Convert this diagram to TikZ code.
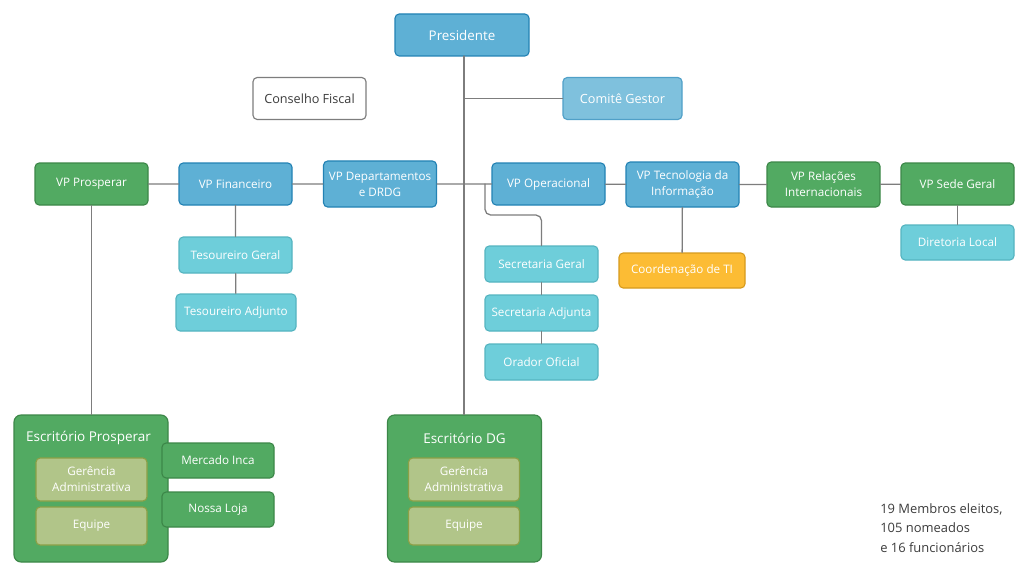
\documentclass[tikz,border=0pt]{standalone}
\usepackage{fontspec}
\setmainfont{Open Sans}
\usetikzlibrary{positioning}

\definecolor{vpblue}{RGB}{94,176,213}
\definecolor{vpblueline}{RGB}{35,130,180}
\definecolor{vpgreen}{RGB}{82,170,98}
\definecolor{vpgreenline}{RGB}{60,135,72}
\definecolor{subcyan}{RGB}{110,206,218}
\definecolor{subcyanline}{RGB}{85,180,192}
\definecolor{cgblue}{RGB}{127,193,221}
\definecolor{cgblueline}{RGB}{80,160,200}
\definecolor{olive}{RGB}{177,197,137}
\definecolor{oliveline}{RGB}{140,160,70}
\definecolor{tiorange}{RGB}{252,188,52}
\definecolor{tiorangeline}{RGB}{215,155,30}
\definecolor{linkgray}{RGB}{125,125,125}
\definecolor{notegray}{RGB}{60,60,60}

\def\pxu{0.025cm}

\begin{document}
\begin{tikzpicture}[
    x=0.025cm, y=-0.025cm,
    font=\fontsize{8.3}{11.3}\selectfont,
    line cap=round,
    line join=round,
    box/.style={rounded corners=3pt, line width=0.8pt, align=center, text=white,
        inner sep=1pt, minimum width=113*\pxu, minimum height=42*\pxu},
    bluebox/.style={box, fill=vpblue, draw=vpblueline},
    greenbox/.style={box, fill=vpgreen, draw=vpgreenline},
    subbox/.style={box, fill=subcyan, draw=subcyanline, minimum height=36*\pxu},
    olivebox/.style={box, fill=olive, draw=oliveline, minimum width=111*\pxu},
    office/.style={rounded corners=5pt, line width=0.8pt, fill=vpgreen, draw=vpgreenline,
        minimum width=154*\pxu, minimum height=147*\pxu, inner sep=0pt},
    officetitle/.style={text=white, font=\fontsize{9.6}{11}\selectfont, inner sep=1pt},
    link/.style={draw=linkgray, line width=0.9pt}
]

% --- Canvas ---
\useasboundingbox[fill=white] (0,0) rectangle (1030,577);

% --- Top ---
\node[bluebox, minimum width=134*\pxu, font=\fontsize{9.5}{11}\selectfont] (pres) at (462,35) {Presidente};
\node[box, fill=white, draw=linkgray, text=notegray, font=\fontsize{9}{11}\selectfont] (cf) at (309.5,98.5) {Conselho Fiscal};
\node[box, fill=cgblue, draw=cgblueline, minimum width=119*\pxu, font=\fontsize{9}{11}\selectfont] (cg) at (622.5,98.5) {Comitê Gestor};

% --- VP row ---
\node[greenbox] (vpP) at (91.5,184) {VP Prosperar};
\node[bluebox] (vpF) at (235.5,184) {VP Financeiro};
\node[bluebox, minimum height=46*\pxu] (vpD) at (380,184) {VP Departamentos\\e DRDG};
\node[bluebox] (vpO) at (548.5,184) {VP Operacional};
\node[bluebox, minimum height=45*\pxu] (vpT) at (682.5,184.5) {VP Tecnologia da\\Informação};
\node[greenbox, minimum height=45*\pxu] (vpR) at (823.5,184.5) {VP Relações\\Internacionais};
\node[greenbox] (vpS) at (957.5,184) {VP Sede Geral};

% --- Subordinates ---
\node[subbox] (tg) at (235.5,255) {Tesoureiro Geral};
\node[subbox, minimum width=120*\pxu, minimum height=37*\pxu] (ta) at (236,312.5) {Tesoureiro Adjunto};
\node[subbox] (sg) at (541.5,264) {Secretaria Geral};
\node[subbox] (sa) at (541.5,313) {Secretaria Adjunta};
\node[subbox] (oo) at (541.5,362) {Orador Oficial};
\node[box, fill=tiorange, draw=tiorangeline, minimum width=126*\pxu, minimum height=35*\pxu] (cti) at (682,270.5) {Coordenação de TI};
\node[subbox, minimum height=35*\pxu] (dl) at (957.5,242.5) {Diretoria Local};

% --- Escritorios ---
\node[office] (escP) at (91,488.5) {};
\node[officetitle] (escPt) at (88.5,438) {Escritório Prosperar};
\node[olivebox, minimum height=43*\pxu] (gaP) at (91.5,479.5) {Gerência\\Administrativa};
\node[olivebox, minimum height=38*\pxu] (eqP) at (91.5,526) {Equipe};
\node[greenbox, minimum width=112*\pxu, minimum height=35*\pxu] (mi) at (218,460.5) {Mercado Inca};
\node[greenbox, minimum width=112*\pxu, minimum height=35*\pxu] (nl) at (218,509.5) {Nossa Loja};

\node[office] (escDG) at (464.5,488.5) {};
\node[officetitle] (escDGt) at (464.5,438) {Escritório DG};
\node[olivebox, minimum height=43*\pxu] (gaDG) at (464,479.5) {Gerência\\Administrativa};
\node[olivebox, minimum height=38*\pxu] (eqDG) at (464,526) {Equipe};

% --- Note ---
\node[anchor=north west, align=left, text=notegray, inner sep=0pt,
      font=\fontsize{9.2}{13.9}\selectfont] (note) at (880,503) {19 Membros eleitos,\\105 nomeados\\e 16 funcionários};

% --- Links ---
\coordinate (opbr) at (485,184);
\coordinate (trunk) at (464,56);
\draw[link] (trunk) -- (trunk |- escDG.north);
\draw[link] (cg.west) -- (cg.west -| trunk);
\draw[link] (vpP) -- (vpF) -- (vpD) -- (vpO) -- (vpT) -- (vpR) -- (vpS);
\draw[link] (vpF) -- (tg) -- (ta);
\draw[link, rounded corners=4pt] (opbr) -- ++(0,31) -| (sg.north);
\draw[link] (sg) -- (sa) -- (oo);
\draw[link] (vpT) -- (cti);
\draw[link] (vpS) -- (dl);
\draw[link] (vpP.south) -- (vpP.south |- escP.north);

\end{tikzpicture}
\end{document}
